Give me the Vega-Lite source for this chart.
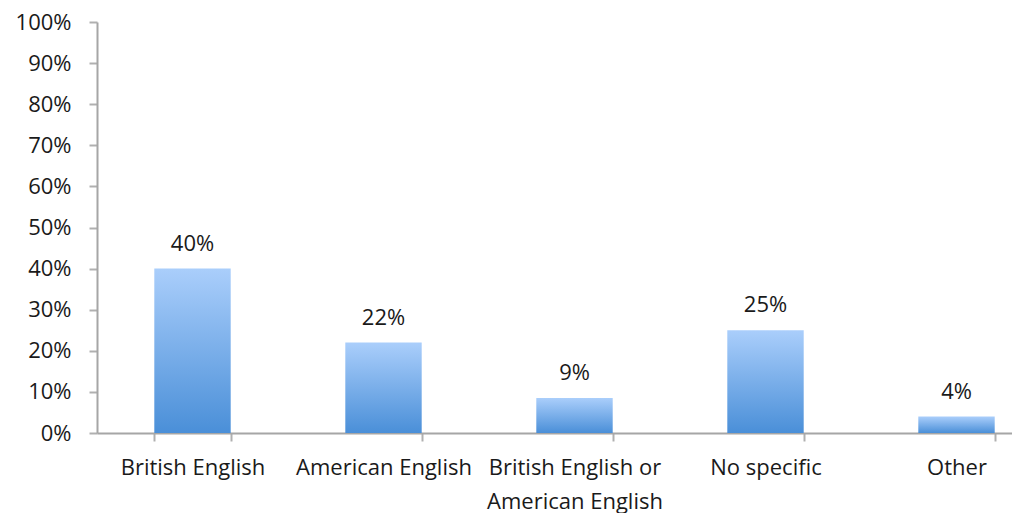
{
  "$schema": "https://vega.github.io/schema/vega-lite/v6.json",
  "autosize": {"type": "none"},
  "width": 915,
  "height": 411,
  "padding": {"left": 97, "top": 22, "right": 0, "bottom": 80},
  "background": "white",
  "config": {"view": {"stroke": null}, "font": "Open Sans"},
  "data": {"values": [
    {"category": "British English", "share": 0.40, "label": "40%"},
    {"category": "American English", "share": 0.22, "label": "22%"},
    {"category": "British English or American English", "share": 0.085, "label": "9%"},
    {"category": "No specific", "share": 0.25, "label": "25%"},
    {"category": "Other", "share": 0.04, "label": "4%"}
  ]},
  "encoding": {
    "x": {
      "field": "category", "type": "nominal", "sort": null,
      "scale": {"range": [0, 955], "paddingInner": 0.6, "paddingOuter": 0.3},
      "axis": {
        "title": null, "labelAngle": 0, "tickBand": "extent",
        "domainColor": "#a6a6a6", "domainWidth": 2, "tickColor": "#b0b0b0", "tickWidth": 2, "tickSize": 8,
        "labelFont": "Open Sans", "labelFontSize": 22, "labelColor": "#1a1a1a", "labelPadding": 16,
        "labelLineHeight": 34, "labelLimit": 300,
        "labelExpr": "datum.label == 'British English or American English' ? ['British English or', 'American English'] : datum.label"
      }
    },
    "y": {
      "field": "share", "type": "quantitative",
      "scale": {"domain": [0, 1]},
      "axis": {
        "title": null, "format": ".0%", "values": [0, 0.1, 0.2, 0.3, 0.4, 0.5, 0.6, 0.7, 0.8, 0.9, 1],
        "grid": false, "domainColor": "#a6a6a6", "domainWidth": 2, "tickColor": "#b0b0b0", "tickWidth": 2, "tickSize": 8,
        "labelFont": "Open Sans", "labelFontSize": 22, "labelColor": "#1a1a1a", "labelPadding": 18
      }
    }
  },
  "layer": [
    {
      "mark": {
        "type": "bar",
        "color": {"gradient": "linear", "x1": 0, "y1": 0, "x2": 0, "y2": 1,
          "stops": [{"offset": 0, "color": "#aacefb"}, {"offset": 1, "color": "#4a8fd8"}]}
      }
    },
    {
      "mark": {"type": "text", "baseline": "alphabetic", "dy": -18, "font": "Open Sans", "fontSize": 22, "color": "#1a1a1a"},
      "encoding": {"text": {"field": "label"}}
    }
  ]
}
